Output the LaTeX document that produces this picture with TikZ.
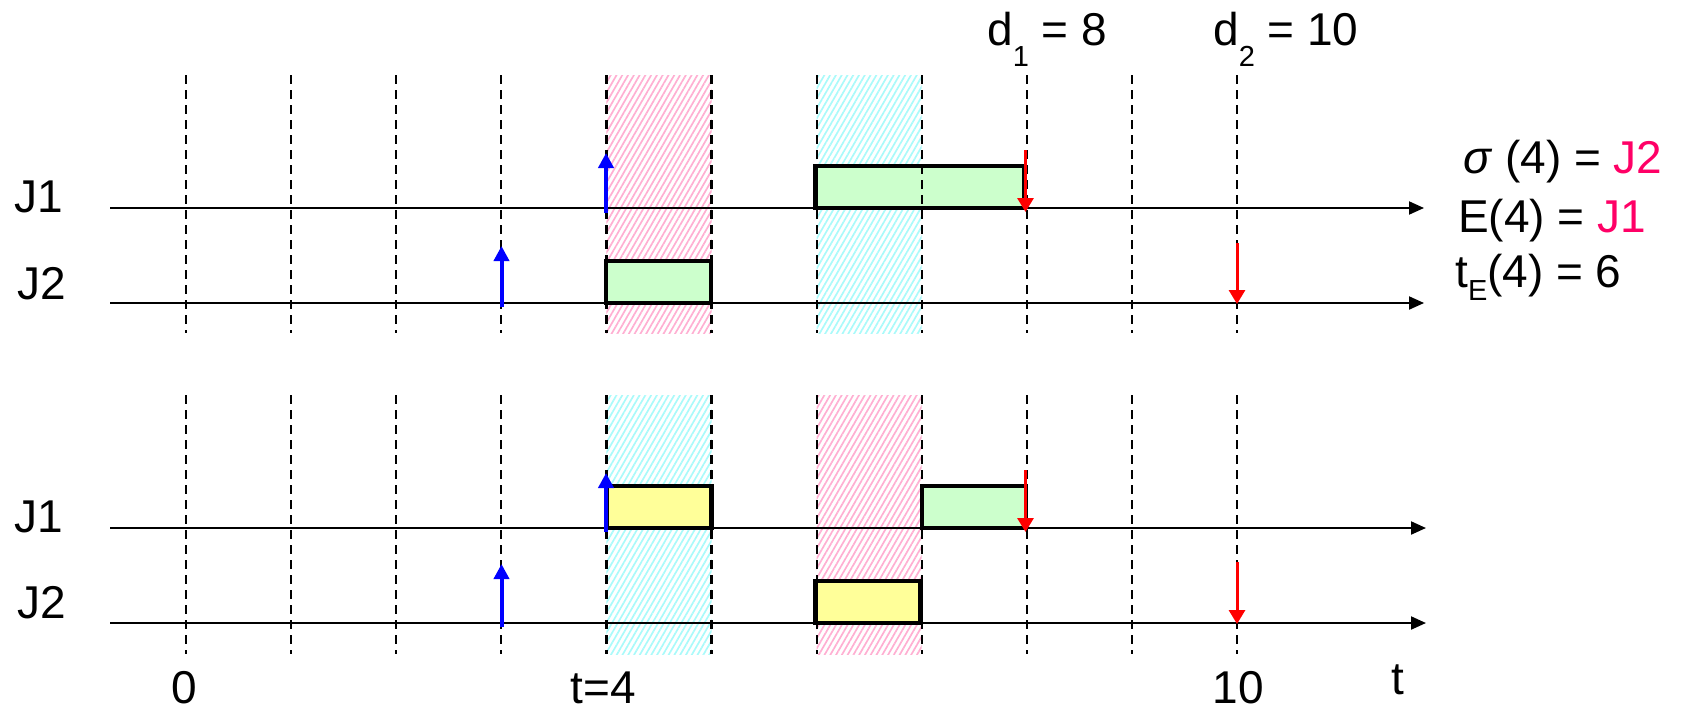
\documentclass[tikz,border=0pt]{standalone}
\usepackage{fontspec}
\setmainfont{Liberation Sans}
\usetikzlibrary{arrows.meta,patterns.meta}
\definecolor{stripepink}{RGB}{255,175,210}
\definecolor{stripecyan}{RGB}{170,250,250}
\definecolor{boxgreen}{RGB}{204,255,204}
\definecolor{boxyellow}{RGB}{255,255,153}
\definecolor{jred}{RGB}{255,0,102}
\newcommand\mysub[2]{\raisebox{-#1}{\fontsize{29}{30}\selectfont #2}}
\tikzset{
  lbl/.style={inner sep=0pt, anchor=base west, font=\fontsize{46}{55}\selectfont},
  clbl/.style={inner sep=0pt, anchor=base, font=\fontsize{46}{55}\selectfont},
  vline/.style={line width=2.2pt, dash pattern=on 9pt off 6pt},
  axisline/.style={line width=2pt, -{Triangle[length=15pt,width=13pt]}},
  jobbox/.style={draw, line width=4.5pt, inner sep=0pt, minimum height=42pt},
  relarrow/.style={blue, line width=4pt, -{Triangle[length=15pt,width=15pt]}},
  dlarrow/.style={red, line width=3pt, -{Triangle[length=14pt,width=16pt]}},
  pinkzone/.style={pattern={Lines[angle=60,distance=5pt,line width=1.7pt]}, pattern color=stripepink},
  cyanzone/.style={pattern={Lines[angle=60,distance=5pt,line width=1.7pt]}, pattern color=stripecyan},
}
\begin{document}
\begin{tikzpicture}[x=1pt,y=-1pt]
\useasboundingbox (0,0) rectangle (1686,713);
% time positions t_k = 186 + 105.1 k
% stripes
\fill[pinkzone] (606.4,75) rectangle (711.5,333);
\fill[cyanzone] (816.6,75) rectangle (921.7,333);
\fill[cyanzone] (606.4,395) rectangle (711.5,654);
\fill[pinkzone] (816.6,395) rectangle (921.7,654);
% axes
\coordinate (a1s) at (110,208); \coordinate (a1e) at (1424,208);
\coordinate (a2s) at (110,303); \coordinate (a2e) at (1424,303);
\coordinate (b1s) at (110,528); \coordinate (b1e) at (1426,528);
\coordinate (b2s) at (110,623); \coordinate (b2e) at (1426,623);
\draw[axisline] (a1s) -- (a1e);
\draw[axisline] (a2s) -- (a2e);
\draw[axisline] (b1s) -- (b1e);
\draw[axisline] (b2s) -- (b2e);
% job boxes
\node[jobbox, fill=boxgreen, minimum width=209pt] (tg1) at (920,187) {};
\node[jobbox, fill=boxgreen, minimum width=105pt] (tg2) at (658.5,282) {};
\node[jobbox, fill=boxyellow, minimum width=105pt] (by1) at (659,507) {};
\node[jobbox, fill=boxgreen, minimum width=104pt] (bg1) at (974,507) {};
\node[jobbox, fill=boxyellow, minimum width=105pt] (by2) at (868,602) {};
% dashed time lines
\foreach \k in {0,...,10}{
  \coordinate (tt\k) at (186+105.1*\k,75);
  \coordinate (tb\k) at (186+105.1*\k,333);
  \coordinate (bt\k) at (186+105.1*\k,395);
  \coordinate (bb\k) at (186+105.1*\k,654);
  \draw[vline] (tt\k) -- (tb\k);
  \draw[vline] (bt\k) -- (bb\k);
}
% release arrows
\coordinate (r1a) at (606,213); \coordinate (r1b) at (606,153);
\coordinate (r2a) at (501.5,307); \coordinate (r2b) at (501.5,246);
\coordinate (r3a) at (606,532); \coordinate (r3b) at (606,473);
\coordinate (r4a) at (501.5,627); \coordinate (r4b) at (501.5,564);
\draw[relarrow] (r1a) -- (r1b);
\draw[relarrow] (r2a) -- (r2b);
\draw[relarrow] (r3a) -- (r3b);
\draw[relarrow] (r4a) -- (r4b);
% deadline arrows
\coordinate (d1a) at (1025.5,150); \coordinate (d1b) at (1025.5,212);
\coordinate (d2a) at (1237,243); \coordinate (d2b) at (1237,304);
\coordinate (d3a) at (1025.5,470); \coordinate (d3b) at (1025.5,532);
\coordinate (d4a) at (1237,562); \coordinate (d4b) at (1237,624);
\draw[dlarrow] (d1a) -- (d1b);
\draw[dlarrow] (d2a) -- (d2b);
\draw[dlarrow] (d3a) -- (d3b);
\draw[dlarrow] (d4a) -- (d4b);
% labels
\node[lbl] (lj1t) at (14,212) {J1};
\node[lbl] (lj2t) at (17,299) {J2};
\node[lbl] (lj1b) at (14,532) {J1};
\node[lbl] (lj2b) at (17,618) {J2};
\node[lbl] (ld1) at (987,45) {d\mysub{21pt}{1} = 8};
\node[lbl] (ld2) at (1213,45) {d\mysub{21pt}{2} = 10};
\node[lbl] (lsig) at (1463,173) {\textit{σ} (4) = \textcolor{jred}{J2}};
\node[lbl] (lE) at (1458,232) {E(4) = \textcolor{jred}{J1}};
\node[lbl] (ltE) at (1455,287) {t\mysub{13pt}{E}(4) = 6};
\node[clbl] (l0) at (184,703) {0};
\node[clbl] (l4) at (603,703) {t=4};
\node[clbl] (l10) at (1238,703) {10};
\node[lbl] (lt) at (1391,694) {t};
\end{tikzpicture}
\end{document}
